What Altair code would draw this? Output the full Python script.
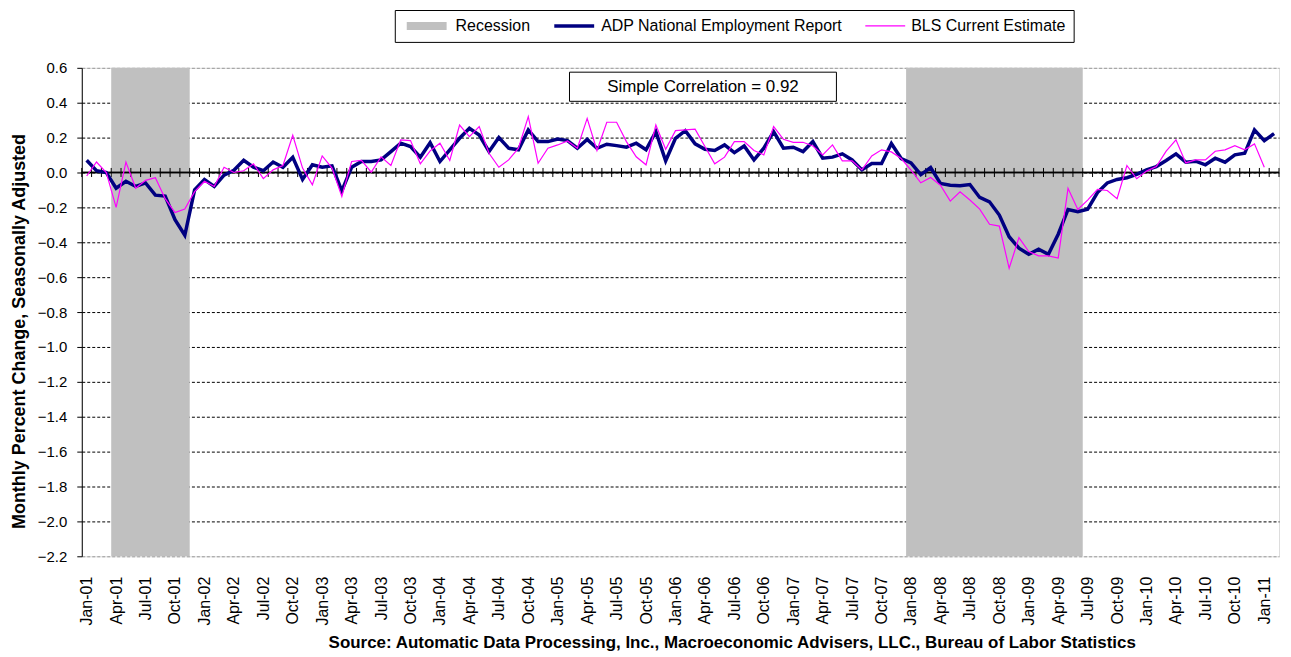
import altair as alt
import pandas as pd

# ---------------- data ----------------
MONTH_ABBR = ["Jan", "Feb", "Mar", "Apr", "May", "Jun",
              "Jul", "Aug", "Sep", "Oct", "Nov", "Dec"]
START_YEAR = 2001
N_MONTHS = 122  # Jan-01 .. Feb-11
months = [f"{MONTH_ABBR[k % 12]}-{(START_YEAR + k // 12) % 100:02d}" for k in range(N_MONTHS)]

adp = [0.07, 0.01, 0.00, -0.09, -0.05, -0.08, -0.06, -0.13, -0.135, -0.27, -0.36, -0.10,
       -0.04, -0.08, -0.015, 0.013, 0.07, 0.03, 0.01, 0.06, 0.03, 0.087, -0.04, 0.044,
       0.03, 0.038, -0.105, 0.03, 0.063, 0.063, 0.072, 0.12, 0.168, 0.149, 0.088, 0.171,
       0.063, 0.13, 0.196, 0.253, 0.215, 0.12, 0.20, 0.139, 0.13, 0.244, 0.177, 0.177,
       0.192, 0.183, 0.139, 0.19, 0.139, 0.162, 0.154, 0.145, 0.168, 0.13, 0.234, 0.067,
       0.196, 0.24, 0.164, 0.133, 0.126, 0.158, 0.114, 0.152, 0.072, 0.139, 0.234, 0.139,
       0.145, 0.12, 0.177, 0.082, 0.088, 0.107, 0.072, 0.015, 0.052, 0.052, 0.166, 0.08,
       0.055, -0.012, 0.028, -0.063, -0.073, -0.076, -0.069, -0.143, -0.168, -0.244, -0.368, -0.434,
       -0.469, -0.44, -0.469, -0.354, -0.212, -0.225, -0.21, -0.115, -0.06, -0.04, -0.03, -0.011,
       0.015, 0.034, 0.069, 0.107, 0.059, 0.065, 0.044, 0.082, 0.059, 0.101, 0.11, 0.244,
       0.183, 0.223]

bls = [-0.02, 0.06, 0.00, -0.20, 0.06, -0.09, -0.045, -0.03, -0.15, -0.23, -0.21, -0.11,
       -0.05, -0.08, 0.03, 0.00, 0.01, 0.05, -0.035, 0.015, 0.04, 0.213, 0.025, -0.07,
       0.095, 0.025, -0.137, 0.063, 0.069, 0.002, 0.09, 0.04, 0.187, 0.183, 0.05, 0.124,
       0.168, 0.069, 0.272, 0.206, 0.263, 0.11, 0.03, 0.072, 0.139, 0.32, 0.053, 0.139,
       0.158, 0.181, 0.139, 0.31, 0.126, 0.288, 0.288, 0.177, 0.09, 0.044, 0.272, 0.133,
       0.24, 0.244, 0.248, 0.149, 0.05, 0.088, 0.177, 0.177, 0.126, 0.101, 0.263, 0.19,
       0.173, 0.173, 0.152, 0.101, 0.158, 0.067, 0.067, 0.015, 0.095, 0.13, 0.118, 0.08,
       0.013, -0.059, -0.029, -0.073, -0.164, -0.111, -0.158, -0.21, -0.297, -0.307, -0.549, -0.373,
       -0.453, -0.478, -0.478, -0.49, -0.091, -0.212, -0.158, -0.097, -0.103, -0.15, 0.04, -0.036,
       0.008, 0.034, 0.122, 0.187, 0.055, 0.072, 0.072, 0.122, 0.13, 0.154, 0.13, 0.164,
       0.03]

recessions = [("Apr-01", "Nov-01"), ("Jan-08", "Jun-09")]

series_names = ["Recession", "ADP National Employment Report", "BLS Current Estimate"]
series_colors = ["#C0C0C0", "#000080", "#FF00FF"]
series_widths = [8, 3.5, 1.2]

y_ticks = [round(-2.2 + 0.2 * k, 1) for k in range(15)]
correlation_text = "Simple Correlation = 0.92"
# annotation box placement in data units (month index, value)
corr_box = {"x": 49.2, "x2": 76.4, "y": 0.575, "y2": 0.408}

SOURCE = "Source: Automatic Data Processing, Inc., Macroeconomic Advisers, LLC., Bureau of Labor Statistics"
YTITLE = "Monthly Percent Change, Seasonally Adjusted"

FONT = "Liberation Sans, Arial, sans-serif"

# ---------------- frames ----------------
df_adp = pd.DataFrame({"idx": range(len(adp)), "month": months[:len(adp)],
                       "value": adp, "series": series_names[1]})
df_bls = pd.DataFrame({"idx": range(len(bls)), "month": months[:len(bls)],
                       "value": bls, "series": series_names[2]})
df_rec = pd.DataFrame([{"x": months.index(a) - 0.5, "x2": months.index(b) + 0.5}
                       for a, b in recessions])
df_bounds = pd.DataFrame({"b": [k - 0.5 for k in range(N_MONTHS + 1)]})
df_box = pd.DataFrame([corr_box])
df_txt = pd.DataFrame([{"x": (corr_box["x"] + corr_box["x2"]) / 2,
                        "y": (corr_box["y"] + corr_box["y2"]) / 2,
                        "t": correlation_text}])

label_array = "[" + ",".join(f"'{m}'" for m in months) + "]"

x_scale = alt.Scale(domain=[-0.5, N_MONTHS - 0.5], nice=False, zero=False)
y_scale = alt.Scale(domain=[-2.2, 0.6], nice=False, zero=False)

x_axis = alt.Axis(
    values=list(range(0, N_MONTHS, 3)), tickCount=500,
    labelExpr=label_array + "[datum.value]",
    labelAngle=270, labelFontSize=16, labelFont=FONT, labelColor="black",
    labelPadding=20, labelOverlap=False, ticks=False, domain=False, grid=False,
    title=SOURCE, titleFont=FONT, titleFontSize=17, titleFontWeight="bold",
    titleColor="black", titleX=652, titleY=86, titleAlign="center",
    titleBaseline="middle",
)
y_axis = alt.Axis(
    values=y_ticks, tickCount=500, format=".1f", labelOverlap=False,
    labelFontSize=15, labelFont=FONT, labelColor="black", labelPadding=10,
    tickSize=5, tickColor="black", domainColor="black",
    grid=True, gridDash=[3, 2],
    gridColor=alt.condition("datum.value >= 0.55 || datum.value <= -2.15",
                            alt.value("#9a9a9a"), alt.value("black")),
    title=YTITLE, titleFont=FONT, titleFontSize=18, titleFontWeight="bold",
    titleColor="black", titleX=-62, titleY=264, titleAngle=270,
    titleAlign="center", titleBaseline="middle",
)

color_scale = alt.Scale(domain=series_names, range=series_colors)
width_scale = alt.Scale(type="ordinal", domain=series_names, range=series_widths)
legend = alt.Legend(
    title=None, orient="none", legendX=314, legendY=-58, direction="horizontal",
    symbolType="stroke", symbolSize=1600, clipHeight=16,
    labelFont=FONT, labelFontSize=16, labelColor="black", labelOffset=5,
    labelLimit=500, columnPadding=22, padding=8,
    strokeColor="black", fillColor="white",
)

base_x = alt.X("x:Q", scale=x_scale, axis=x_axis)

rec = alt.Chart(df_rec).mark_rect(color="#C0C0C0").encode(
    x=base_x, x2="x2:Q",
    y=alt.Y(datum=-2.2, scale=y_scale, axis=y_axis), y2=alt.datum(0.6),
)

zero_rule = alt.Chart(df_rec).mark_rule(color="black", strokeWidth=1.3).encode(
    y=alt.Y(datum=0, scale=y_scale),
)

cat_ticks = alt.Chart(df_bounds).mark_rule(color="black", strokeWidth=1).encode(
    x=alt.X("b:Q", scale=x_scale),
    y=alt.Y(datum=-0.026, scale=y_scale), y2=alt.datum(0.026),
)


def series_line(df):
    return alt.Chart(df).mark_line(strokeJoin="miter").encode(
        x=alt.X("idx:Q", scale=x_scale),
        y=alt.Y("value:Q", scale=y_scale),
        color=alt.Color("series:N", scale=color_scale, legend=legend),
        strokeWidth=alt.StrokeWidth("series:N", scale=width_scale, legend=legend),
    )


line_adp = series_line(df_adp)
line_bls = series_line(df_bls)

box = alt.Chart(df_box).mark_rect(fill="white", stroke="black", strokeWidth=1).encode(
    x=alt.X("x:Q", scale=x_scale), x2="x2:Q",
    y=alt.Y("y:Q", scale=y_scale), y2="y2:Q",
)
box_text = alt.Chart(df_txt).mark_text(font=FONT, fontSize=17, color="black",
                                       align="center", baseline="middle").encode(
    x=alt.X("x:Q", scale=x_scale), y=alt.Y("y:Q", scale=y_scale), text="t:N",
)

chart = alt.layer(rec, zero_rule, cat_ticks, line_adp, line_bls, box, box_text).properties(
    width=1201, height=490,
    padding={"left": 74, "top": 59, "right": 4, "bottom": 95},
    autosize=alt.AutoSizeParams(type="none"),
).configure_view(stroke="#808080", strokeWidth=1).configure(font=FONT)

chart.save("out.html", embed_options={"renderer": "svg", "actions": False})
